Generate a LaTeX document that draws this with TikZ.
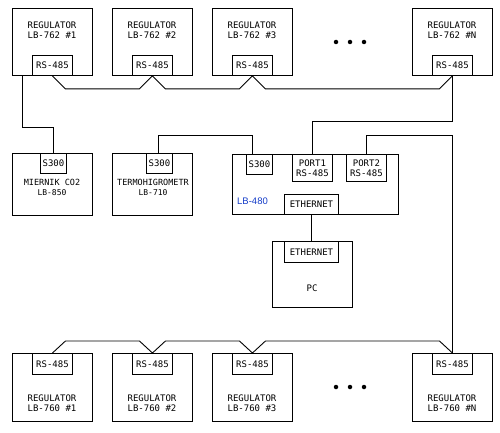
\documentclass[tikz,border=0pt]{standalone}
\usepackage{fontspec}
\setmonofont{DejaVu Sans Mono}
\newfontfamily\lbfont{Liberation Sans}
\usetikzlibrary{calc}
\definecolor{lbblue}{RGB}{20,60,200}
\tikzset{
  box/.style={draw=black, line width=0.9pt, anchor=north west, inner sep=0pt},
  port/.style={draw=black, line width=0.9pt, anchor=north west, inner sep=0pt, font=\ttfamily\fontsize{9}{10}\selectfont, align=center},
  lbl/.style={font=\ttfamily\fontsize{9}{10}\selectfont, align=center, inner sep=0pt},
  mlbl/.style={font=\ttfamily\fontsize{8.5}{10}\selectfont, align=center, inner sep=0pt},
  wire/.style={line width=0.9pt, draw=black},
  dot/.style={fill=black, circle, inner sep=0pt, minimum size=4.5pt}
}
\begin{document}
\begin{tikzpicture}[x=1pt, y=-1pt]
\useasboundingbox (0,0) rectangle (500,433);
% top regulators
\foreach \n/\x/\t in {1/12/\#1, 2/112/\#2, 3/212/\#3, 4/412/\#N}{
  \node[box, minimum width=80pt, minimum height=67pt] (t\n) at (\x,8) {};
  \node[port, minimum width=40pt, minimum height=20pt] (t\n p) at (\x+20,55) {RS-485};
  \node[lbl] (t\n l) at (\x+40,30) {REGULATOR\\LB-762 \t};
}
% bottom regulators
\foreach \n/\x/\t in {1/12/\#1, 2/112/\#2, 3/212/\#3, 4/412/\#N}{
  \node[box, minimum width=80pt, minimum height=68pt] (b\n) at (\x,353) {};
  \node[port, minimum width=40pt, minimum height=21pt] (b\n p) at (\x+20,353) {RS-485};
  \node[lbl] (b\n l) at (\x+40,403) {REGULATOR\\LB-760 \t};
}
% dots
\foreach \i/\x in {1/336, 2/350, 3/364}{
  \node[dot] (td\i) at (\x,42) {};
  \node[dot] (bd\i) at (\x,387) {};
}
% middle row
\node[box, minimum width=80pt, minimum height=62pt] (co) at (12,153) {};
\node[port, minimum width=26pt, minimum height=20pt] (cos) at (40,153) {S300};
\node[mlbl] (col) at (52,187) {MIERNIK CO2\\{\fontsize{8}{9}\selectfont LB-850}};
\node[box, minimum width=80pt, minimum height=62pt] (th) at (112,153) {};
\node[port, minimum width=26pt, minimum height=20pt] (ths) at (146,153) {S300};
\node[mlbl] (thl) at (153,187) {TERMOHIGROMETR\\{\fontsize{8}{9}\selectfont LB-710}};
\node[box, minimum width=166pt, minimum height=60pt] (lb) at (232,154) {};
\node[port, minimum width=26pt, minimum height=20pt] (lbs) at (246,154) {S300};
\node[port, minimum width=40pt, minimum height=27pt] (p1) at (292,154) {PORT1\\RS-485};
\node[port, minimum width=40pt, minimum height=27pt] (p2) at (346,154) {PORT2\\RS-485};
\node[port, minimum width=54pt, minimum height=20pt] (le) at (284,194) {ETHERNET};
\node[anchor=west, inner sep=0pt, text=lbblue, font=\lbfont\fontsize{9.5}{10}\selectfont] (lbl480) at (237,201) {LB-480};
% PC
\node[box, minimum width=80pt, minimum height=66pt] (pc) at (272,241) {};
\node[port, minimum width=54pt, minimum height=21pt] (pce) at (284,241) {ETHERNET};
\node[lbl] (pcl) at (312,288) {PC};
% connectors
\draw[wire] ($(t1.south west)+(10,0)$) -- ++(0,52) -| (cos.north);
\draw[wire] ($(ths.north)+(-1,0)$) -- ++(0,-18) -| ($(lbs.north west)+(6,0)$);
\draw[wire] (t1p.south) -- ++(13,13) -- ($(t2p.south)+(-13,13)$) -- (t2p.south) -- ++(13,13)
  -- ($(t3p.south)+(-13,13)$) -- (t3p.south) -- ++(13,13) -- ($(t4p.south)+(-13,13)$) -- (t4p.south);
\draw[wire] (b1p.north) -- ++(13,-12) -- ($(b2p.north)+(-13,-12)$) -- (b2p.north) -- ++(13,-12)
  -- ($(b3p.north)+(-13,-12)$) -- (b3p.north) -- ++(13,-12) -- ($(b4p.north)+(-13,-12)$) -- (b4p.north);
\draw[wire] (t4p.south) -- ++(0,46) -| (p1.north);
\draw[wire] (b4p.north) -- ($(b4p.north)+(0,-218)$) -| (p2.north);
\draw[wire] (le.south) -- (pce.north);
\end{tikzpicture}
\end{document}
